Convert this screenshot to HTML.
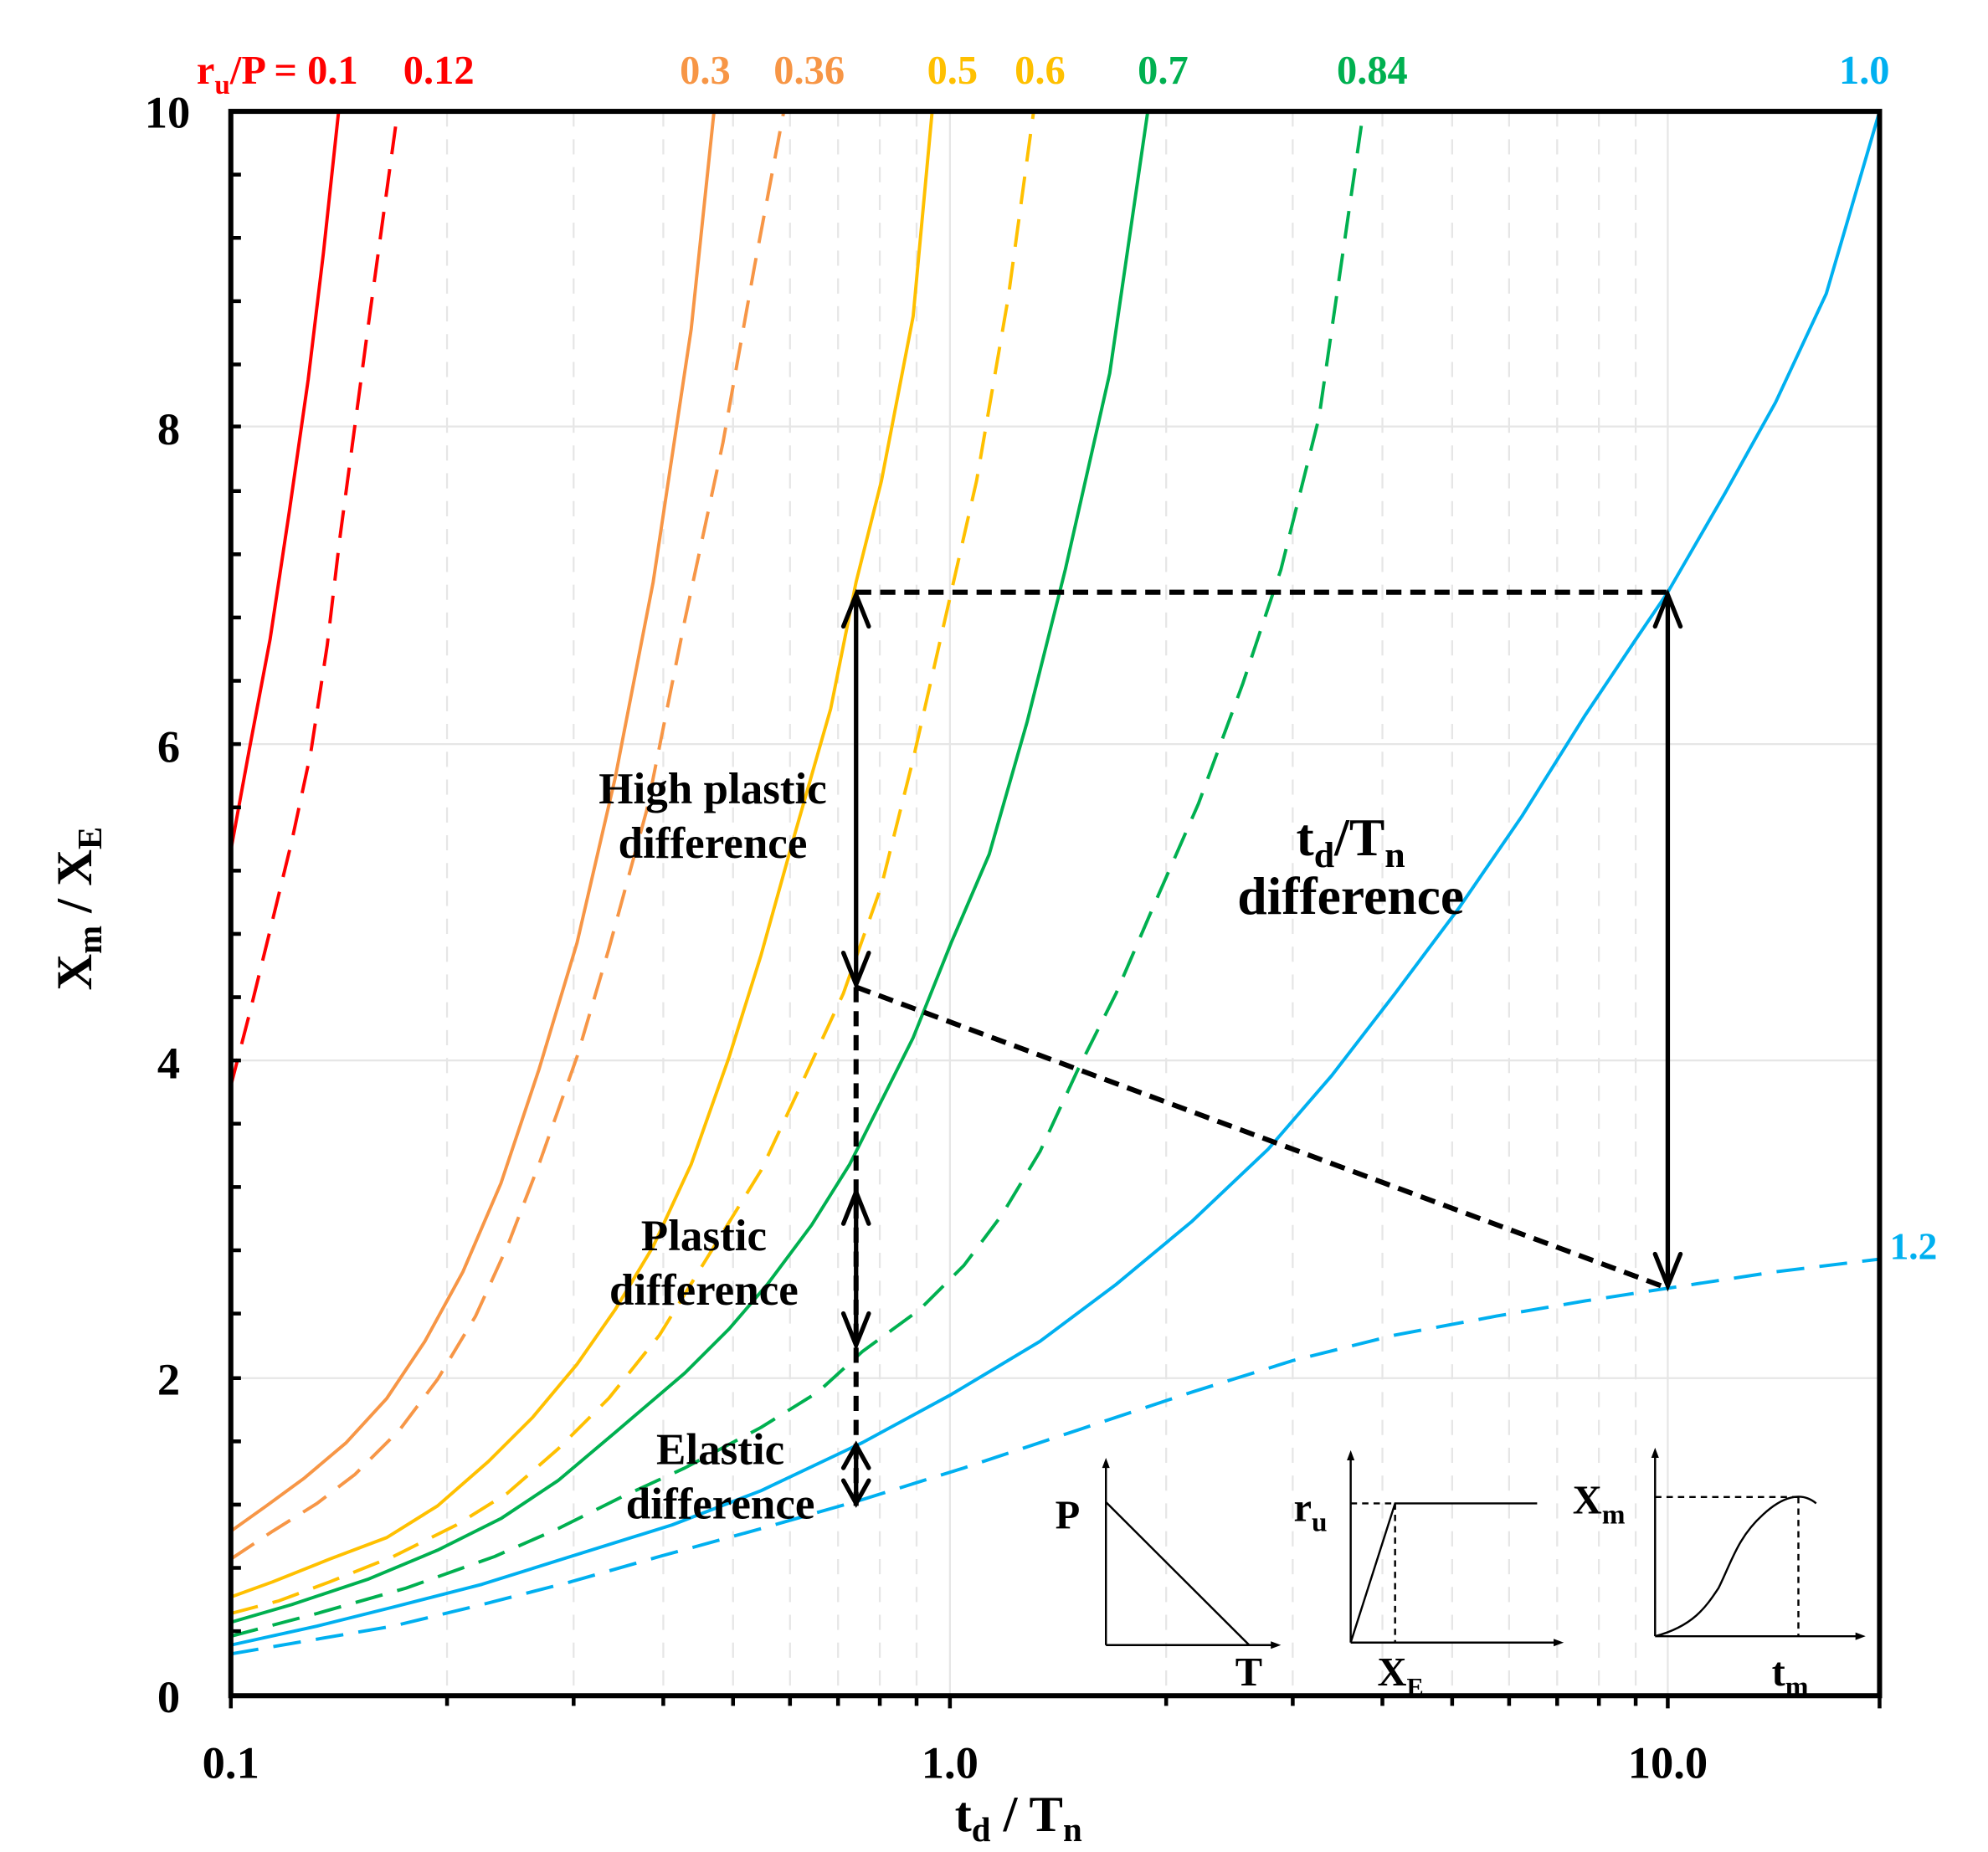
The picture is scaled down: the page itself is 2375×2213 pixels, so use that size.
<!DOCTYPE html>
<html><head><meta charset="utf-8"><style>html,body{margin:0;padding:0;background:#fff}svg{display:block}text{font-family:"Liberation Serif",serif;font-weight:bold}</style></head>
<body>
<svg width="2375" height="2213" viewBox="0 0 1567.5 1463.5" preserveAspectRatio="none" xmlns="http://www.w3.org/2000/svg">
<g id="grid" stroke="#e6e6e6" stroke-width="1.5" fill="none">
<path d="M182 1089H1482M182 838H1482M182 588H1482M182 337H1482"/>
<path d="M749 88V1340M1315 88V1340"/>
<g stroke-dasharray="12 10">
<path d="M352.5 88V1340M452.3 88V1340M523 88V1340M578 88V1340M622.9 88V1340M660.8 88V1340M693.7 88V1340M722.7 88V1340"/>
<path d="M919.5 88V1340M1019.3 88V1340M1090 88V1340M1145 88V1340M1189.9 88V1340M1227.8 88V1340M1260.7 88V1340M1289.7 88V1340"/>
</g></g>
<g fill="none" stroke-width="2.6" stroke-linejoin="round">
<polyline stroke="#ff0000" points="182,672 197,590 213,505 228,405 243,300 255,200 267,88"/>
<polyline stroke="#ff0000" stroke-dasharray="22 12" points="182,858 197,800 213,735 230,665 245,595 258,510 268,425 290,260 313,92"/>
<polyline stroke="#f79646" points="182,1210 210,1190 240,1168 273,1140 305,1105 335,1060 365,1005 395,935 425,845 455,745 485,615 515,460 545,260 563,88"/>
<polyline stroke="#f79646" stroke-dasharray="22 12" points="182,1232 215,1210 250,1188 280,1165 315,1130 345,1090 375,1040 400,985 425,920 455,835 480,750 510,640 540,490 570,350 595,210 618,88"/>
<polyline stroke="#ffc000" points="182,1262 215,1250 260,1232 305,1215 345,1190 385,1155 420,1120 455,1078 485,1035 515,985 545,920 575,835 600,755 625,665 655,560 675,460 695,380 720,250 735,88"/>
<polyline stroke="#ffc000" stroke-dasharray="22 12" points="182,1275 220,1265 260,1250 310,1230 360,1205 400,1180 440,1145 480,1105 520,1055 560,990 600,925 635,850 665,785 695,700 720,600 745,490 770,380 795,235 815,88"/>
<polyline stroke="#00b050" points="182,1282 230,1268 290,1248 345,1225 395,1200 440,1170 485,1132 540,1085 575,1050 605,1015 640,968 670,920 695,870 720,820 750,745 780,675 810,570 840,450 875,295 905,88"/>
<polyline stroke="#00b050" stroke-dasharray="22 12" points="182,1293 250,1275 320,1255 390,1230 440,1208 490,1183 540,1160 600,1128 645,1100 680,1068 725,1035 760,1000 790,960 820,910 850,845 880,785 910,715 945,635 980,540 1010,450 1040,330 1075,88"/>
<polyline stroke="#00b0f0" points="182,1300 250,1285 310,1270 380,1252 450,1230 530,1205 600,1178 680,1140 750,1102 820,1060 880,1015 940,965 1000,908 1050,850 1100,785 1150,718 1200,645 1250,565 1290,505 1315,468 1360,390 1400,318 1440,232 1482,88"/>
<polyline stroke="#00b0f0" stroke-dasharray="22 12" points="182,1307 240,1297 310,1285 380,1268 450,1250 520,1230 600,1208 680,1185 760,1160 850,1130 940,1100 1020,1075 1100,1055 1180,1040 1250,1028 1315,1018 1400,1005 1482,995"/>
</g>
<g stroke="#000" fill="none">
<path d="M675 468H1315" stroke-width="4" stroke-dasharray="12 7"/>
<path d="M675 780L1315 1018" stroke-width="4" stroke-dasharray="12 7"/>
<path d="M675 780V1190" stroke-width="4" stroke-dasharray="12 7"/>
<g stroke-width="3.5" stroke-linecap="round">
<path d="M675 470V778M665 495L675 470L685 495M665 753L675 778L685 753"/>
<path d="M675 942V1063M665 967L675 942L685 967M665 1038L675 1063L685 1038"/>
<path d="M675 1142V1188M665 1160L675 1142L685 1160M665 1170L675 1188L685 1170"/>
<path d="M1315 470V1016M1305 495L1315 470L1325 495M1305 991L1315 1016L1325 991"/>
</g></g>
<g stroke="#000" stroke-width="4" fill="none">
<rect x="182" y="88" width="1300" height="1252"/>
</g>
<g stroke="#000" stroke-width="3">
<path d="M182 138h8M182 188h8M182 238h8M182 288h8M182 337h8M182 388h8M182 438h8M182 488h8M182 538h8M182 588h8M182 638h8M182 688h8M182 738h8M182 788h8M182 838h8M182 888h8M182 938h8M182 988h8M182 1038h8M182 1089h8M182 1139h8M182 1189h8M182 1239h8M182 1289h8"/>
<path d="M182 1340v10M352.5 1340v8M452.3 1340v8M523 1340v8M578 1340v8M622.9 1340v8M660.8 1340v8M693.7 1340v8M722.7 1340v8M749 1340v10M919.5 1340v8M1019.3 1340v8M1090 1340v8M1145 1340v8M1189.9 1340v8M1227.8 1340v8M1260.7 1340v8M1289.7 1340v8M1315 1340v10M1482 1340v10"/>
</g>
<g font-size="36" text-anchor="end" fill="#000">
<text x="150" y="101">10</text><text x="142" y="351">8</text><text x="142" y="602">6</text><text x="142" y="852">4</text><text x="142" y="1102">2</text><text x="142" y="1353">0</text>
</g>
<g font-size="36" text-anchor="middle" fill="#000">
<text x="182" y="1405">0.1</text><text x="749" y="1405">1.0</text><text x="1315" y="1405">10.0</text>
<text x="803" y="1447" font-size="40">t<tspan font-size="27" dy="8">d</tspan><tspan dy="-8"> / T</tspan><tspan font-size="27" dy="8">n</tspan></text>
</g>
<text transform="translate(72 718) rotate(-90)" text-anchor="middle" font-size="40">X<tspan font-size="27" dy="8">m</tspan><tspan dy="-8"> / X</tspan><tspan font-size="27" dy="8">E</tspan></text>
<g font-size="32">
<text x="155" y="66" fill="#ff0000">r<tspan font-size="22" dy="8">u</tspan><tspan dy="-8">/P = 0.1</tspan></text>
<text x="318" y="66" fill="#ff0000">0.12</text>
<text x="536" y="66" fill="#f79646">0.3</text>
<text x="610" y="66" fill="#f79646">0.36</text>
<text x="731" y="66" fill="#ffc000">0.5</text>
<text x="800" y="66" fill="#ffc000">0.6</text>
<text x="897" y="66" fill="#00b050">0.7</text>
<text x="1054" y="66" fill="#00b050">0.84</text>
<text x="1450" y="66" fill="#00b0f0">1.0</text>
<text x="1490" y="995" fill="#00b0f0" font-size="30">1.2</text>
</g>
<g font-size="35" text-anchor="middle" fill="#000">
<text x="562" y="635">High plastic</text><text x="562" y="678">difference</text>
<text x="555" y="988">Plastic</text><text x="555" y="1031">difference</text>
<text x="568" y="1157">Elastic</text><text x="568" y="1200">difference</text>
<text x="1065" y="676" font-size="42">t<tspan font-size="29" dy="9">d</tspan><tspan dy="-9">/T</tspan><tspan font-size="29" dy="9">n</tspan></text>
<text x="1065" y="722" font-size="42">difference</text>
</g>
<g stroke="#000" stroke-width="1.6" fill="none">
<path d="M872 1300V1158M1005 1300H872M872 1187L985 1300"/>
<path d="M1065 1298V1152M1228 1298H1065M1065 1298L1100 1188H1212"/>
<path d="M1065 1188H1100M1100 1188V1298" stroke-dasharray="5 4"/>
<path d="M1305 1293V1150M1466 1293H1305M1305 1293C1335 1285 1345 1270 1355 1255C1365 1235 1370 1215 1390 1197C1405 1183 1420 1178 1432 1188"/>
<path d="M1305 1183H1418M1418 1183V1293" stroke-dasharray="5 4"/>
</g>
<g fill="#000">
<path d="M872 1152l-3 8h6zM1010 1300l-8 -3v6zM1065 1146l-3 8h6zM1233 1298l-8 -3v6zM1305 1144l-3 8h6zM1471 1293l-8 -3v6z"/>
</g>
<g font-size="32" fill="#000">
<text x="832" y="1208">P</text><text x="974" y="1332">T</text>
<text x="1020" y="1202">r<tspan font-size="22" dy="8">u</tspan></text>
<text x="1086" y="1332">X<tspan font-size="20" dy="8">E</tspan></text>
<text x="1240" y="1196">X<tspan font-size="22" dy="8">m</tspan></text>
<text x="1397" y="1332">t<tspan font-size="22" dy="8">m</tspan></text>
</g>
</svg>
</body></html>
